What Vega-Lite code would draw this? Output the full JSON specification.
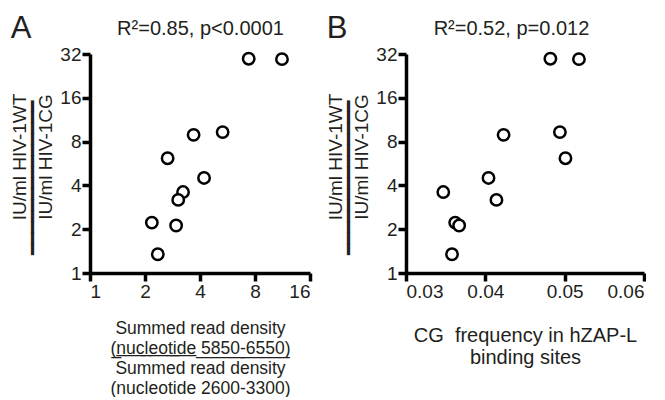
{
  "$schema": "https://vega.github.io/schema/vega-lite/v6.json",
  "padding": {"left": 10, "top": 13, "right": 0, "bottom": 0},
  "spacing": 14,
  "config": {
    "view": {"stroke": null},
    "font": "Liberation Sans",
    "axis": {
      "grid": false,
      "domainColor": "#000000",
      "domainWidth": 3.5,
      "tickColor": "#000000",
      "tickWidth": 3.5,
      "tickSize": 8,
      "labelColor": "#231f20",
      "labelFontSize": 19,
      "labelPadding": 1,
      "titleColor": "#231f20",
      "titleFontWeight": "normal"
    },
    "title": {"fontWeight": "normal", "color": "#231f20", "fontSize": 31}
  },
  "datasets": {
    "samples": [
      {"density": 7.39, "cg": 0.0482, "ratio": 29.7},
      {"density": 11.24, "cg": 0.0518, "ratio": 29.5},
      {"density": 3.69, "cg": 0.0423, "ratio": 8.9},
      {"density": 5.32, "cg": 0.0494, "ratio": 9.3},
      {"density": 2.66, "cg": 0.0501, "ratio": 6.15},
      {"density": 4.21, "cg": 0.0404, "ratio": 4.5},
      {"density": 3.23, "cg": 0.0347, "ratio": 3.6},
      {"density": 3.04, "cg": 0.0414, "ratio": 3.18},
      {"density": 2.18, "cg": 0.0362, "ratio": 2.22},
      {"density": 2.96, "cg": 0.0367, "ratio": 2.12},
      {"density": 2.35, "cg": 0.0358, "ratio": 1.345}
    ]
  },
  "hconcat": [
    {
      "width": 220,
      "height": 219,
      "data": {"name": "samples"},
      "title": {"text": "A", "anchor": "start", "frame": "bounds", "offset": -27},
      "layer": [
        {
          "mark": {"type": "point", "shape": "circle", "filled": true, "fill": "#ffffff", "stroke": "#000000", "strokeWidth": 2.5, "size": 130, "opacity": 1},
          "encoding": {
            "x": {
              "field": "density", "type": "quantitative",
              "scale": {"type": "log", "base": 2, "domain": [1, 16]},
              "axis": {
                "values": [1, 2, 4, 8, 16], "format": "d",
                "domainColor": "#000000", "domainWidth": 3.5, "tickColor": "#000000", "tickWidth": 3.5, "tickSize": 8, "labelPadding": 1,
                "title": ["Summed read density", "(\u0332n\u0332u\u0332c\u0332l\u0332e\u0332o\u0332t\u0332i\u0332d\u0332e\u0332 \u03325\u03328\u03325\u03320\u0332-\u03326\u03325\u03325\u03320\u0332)", "Summed read density", "(nucleotide 2600-3300)"],
                "titleFontSize": 17.5,
                "titleLineHeight": 20,
                "titlePadding": 18
              }
            },
            "y": {
              "field": "ratio", "type": "quantitative",
              "scale": {"type": "log", "base": 2, "domain": [1, 32]},
              "axis": {
                "values": [1, 2, 4, 8, 16, 32], "format": "d",
                "domainColor": "#000000", "domainWidth": 3.5, "tickColor": "#000000", "tickWidth": 3.5, "tickSize": 8, "labelPadding": 1,
                "title": ["\u2800IU/ml HIV-1WT", "━━━━━━━━━━━━━━\u2800\u2800", "\u2800IU/ml HIV-1CG"],
                "titleFontSize": 19,
                "titleLineHeight": 13,
                "titlePadding": 4
              }
            }
          }
        },
        {
          "mark": {"type": "point", "opacity": 0},
          "encoding": {
            "x": {
              "field": "density", "type": "quantitative",
              "scale": {"type": "log", "base": 2, "domain": [1, 16]},
              "axis": {"orient": "top", "domain": false, "ticks": false, "labels": false, "title": "R²=0.85, p<0.0001", "titleFontSize": 20, "titlePadding": 16}
            }
          }
        }
      ],
      "resolve": {"axis": {"x": "independent"}}
    },
    {
      "width": 238,
      "height": 219,
      "data": {"name": "samples"},
      "title": {"text": "B", "anchor": "start", "frame": "bounds", "offset": -27},
      "layer": [
        {
          "mark": {"type": "point", "shape": "circle", "filled": true, "fill": "#ffffff", "stroke": "#000000", "strokeWidth": 2.5, "size": 130, "opacity": 1},
          "encoding": {
            "x": {
              "field": "cg", "type": "quantitative",
              "scale": {"domain": [0.03, 0.06]},
              "axis": {
                "values": [0.03, 0.04, 0.05, 0.06], "format": ".2f",
                "domainColor": "#000000", "domainWidth": 3.5, "tickColor": "#000000", "tickWidth": 3.5, "tickSize": 8, "labelPadding": 1,
                "title": ["CG\u00a0\u00a0frequency in hZAP-L", "binding sites"],
                "titleFontSize": 20,
                "titleLineHeight": 22,
                "titlePadding": 24
              }
            },
            "y": {
              "field": "ratio", "type": "quantitative",
              "scale": {"type": "log", "base": 2, "domain": [1, 32]},
              "axis": {
                "values": [1, 2, 4, 8, 16, 32], "format": "d",
                "domainColor": "#000000", "domainWidth": 3.5, "tickColor": "#000000", "tickWidth": 3.5, "tickSize": 8, "labelPadding": 1,
                "title": ["\u2800IU/ml HIV-1WT", "━━━━━━━━━━━━━━\u2800\u2800", "\u2800IU/ml HIV-1CG"],
                "titleFontSize": 19,
                "titleLineHeight": 13,
                "titlePadding": 4
              }
            }
          }
        },
        {
          "mark": {"type": "point", "opacity": 0},
          "encoding": {
            "x": {
              "field": "cg", "type": "quantitative",
              "scale": {"domain": [0.03, 0.06]},
              "axis": {"orient": "top", "domain": false, "ticks": false, "labels": false, "title": "R²=0.52, p=0.012", "titleFontSize": 20, "titlePadding": 16, "titleX": 105}
            }
          }
        }
      ],
      "resolve": {"axis": {"x": "independent"}}
    }
  ]
}
